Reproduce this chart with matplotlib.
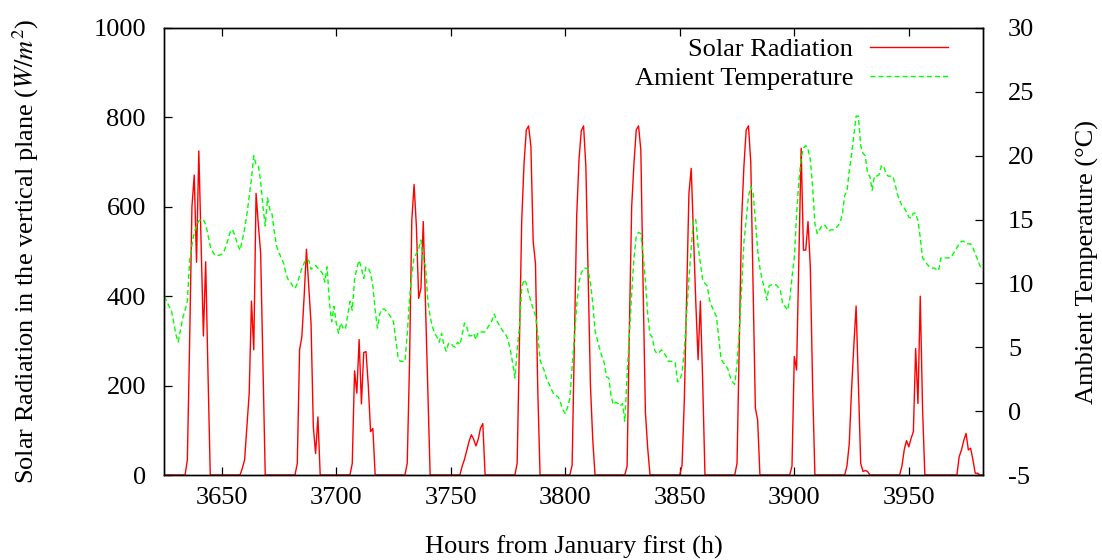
import matplotlib as mpl

mpl.use('agg')

import numpy as np
import matplotlib.pyplot as plt

plt.rc('font', family='serif', size=19)
plt.rc('font', serif=['Liberation Serif', 'DejaVu Serif'])
plt.rc('mathtext', fontset='stix')
plt.rc('axes', unicode_minus=False)

# first hour of both series (hours from January first)
start_hour = 3625

# solar radiation in the vertical plane (W/m2), one value per hour
solar = [
    0, 0, 0, 0, 0,
    0, 0, 0, 0, 0, 34, 300, 600, 671, 476,
    725, 518, 311, 477, 230, 0, 0, 0, 0, 0,
    0, 0, 0, 0, 0, 0, 0, 0, 0, 15,
    34, 110, 183, 389, 280, 630, 560, 496, 250, 0,
    0, 0, 0, 0, 0, 0, 0, 0, 0, 0,
    0, 0, 0, 26, 280, 310, 400, 505, 420, 339,
    108, 48, 130, 0, 0, 0, 0, 0, 0, 0,
    0, 0, 0, 0, 0, 0, 0, 26, 233, 183,
    303, 159, 274, 276, 200, 97, 104, 0, 0, 0,
    0, 0, 0, 0, 0, 0, 0, 0, 0, 0,
    0, 26, 250, 570, 650, 556, 395, 418, 567, 378,
    189, 0, 0, 0, 0, 0, 0, 0, 0, 0,
    0, 0, 0, 0, 0, 20, 35, 55, 75, 90,
    80, 65, 80, 105, 115, 0, 0, 0, 0, 0,
    0, 0, 0, 0, 0, 0, 0, 0, 0, 26,
    300, 570, 697, 772, 781, 735, 522, 473, 190, 0,
    0, 0, 0, 0, 0, 0, 0, 0, 0, 0,
    0, 0, 0, 22, 300, 580, 705, 770, 781, 690,
    450, 200, 80, 0, 0, 0, 0, 0, 0, 0,
    0, 0, 0, 0, 0, 0, 0, 20, 330, 600,
    697, 772, 781, 727, 420, 140, 60, 0, 0, 0,
    0, 0, 0, 0, 0, 0, 0, 0, 0, 0,
    0, 22, 170, 400, 630, 686, 536, 386, 258, 389,
    210, 0, 0, 0, 0, 0, 0, 0, 0, 0,
    0, 0, 0, 0, 0, 26, 300, 570, 690, 772,
    781, 700, 420, 150, 123, 0, 0, 0, 0, 0,
    0, 0, 0, 0, 0, 0, 0, 0, 0, 20,
    265, 235, 480, 731, 503, 503, 567, 466, 200, 0,
    0, 0, 0, 0, 0, 0, 0, 0, 0, 0,
    0, 0, 0, 20, 70, 190, 290, 378, 200, 26,
    8, 10, 8, 0, 0, 0, 0, 0, 0, 0,
    0, 0, 0, 0, 0, 0, 0, 20, 56, 77,
    63, 82, 97, 283, 160, 400, 150, 0, 0, 0,
    0, 0, 0, 0, 0, 0, 0, 0, 0, 0,
    0, 0, 41, 56, 77, 93, 56, 60, 34, 4,
    4, 0, 0,
]

# ambient temperature (C), one value per hour
temperature = [
    9.0, 8.6, 8.2, 7.9, 7.0,
    6.0, 5.4, 6.4, 7.3, 7.9, 8.6, 11.8, 13.0, 14.0, 14.5,
    14.9, 15.0, 15.0, 14.6, 13.8, 12.9, 12.5, 12.2, 12.2, 12.2,
    12.3, 12.5, 13.0, 13.6, 14.2, 14.1, 13.6, 13.0, 12.6, 13.4,
    14.3, 15.4, 16.8, 18.2, 20.0, 19.3, 19.2, 18.0, 16.0, 14.5,
    16.7, 15.8, 15.4, 14.0, 12.9, 12.4, 12.0, 11.6, 10.8, 10.3,
    10.1, 9.8, 9.6, 10.0, 10.6, 11.2, 11.6, 11.9, 11.8, 11.1,
    11.3, 11.4, 11.2, 11.0, 10.8, 10.1, 11.3, 8.6, 7.0, 8.2,
    6.9, 6.1, 6.9, 6.5, 6.4, 7.5, 8.6, 7.9, 10.3, 11.2,
    11.8, 11.2, 10.4, 11.3, 11.2, 10.8, 9.8, 7.9, 6.5, 7.6,
    8.0, 8.0, 7.8, 7.6, 7.3, 7.0, 5.6, 4.2, 3.9, 3.9,
    3.9, 6.0, 8.8, 10.7, 12.1, 12.3, 12.7, 13.4, 11.8, 11.4,
    8.6, 7.4, 6.6, 6.1, 5.8, 5.4, 6.1, 5.2, 4.7, 5.3,
    5.3, 5.1, 5.0, 5.4, 5.2, 6.0, 6.9, 6.6, 5.9, 5.9,
    6.1, 5.6, 6.2, 6.2, 6.2, 6.2, 6.5, 6.8, 7.1, 7.6,
    7.1, 6.8, 6.5, 6.2, 6.0, 5.6, 4.8, 3.8, 2.6, 4.8,
    6.6, 9.7, 10.3, 10.0, 9.2, 8.6, 8.0, 7.5, 6.1, 4.0,
    3.5, 3.1, 2.4, 2.1, 1.7, 1.3, 1.2, 1.1, 0.6, 0.1,
    -0.2, 0.3, 1.0, 3.5, 5.8, 8.3, 10.1, 10.8, 11.2, 11.2,
    11.1, 10.0, 8.5, 6.3, 5.6, 4.9, 4.3, 3.8, 2.7, 2.6,
    1.2, 0.5, 0.7, 0.6, 0.4, 0.6, -0.8, 2.8, 6.0, 9.2,
    12.0, 13.7, 14.0, 13.9, 12.2, 10.2, 7.6, 6.0, 5.8, 4.8,
    4.5, 4.6, 4.8, 4.6, 4.3, 3.9, 3.9, 3.9, 3.8, 2.3,
    2.4, 3.0, 4.8, 7.6, 10.4, 12.8, 15.0, 15.0, 12.9, 11.6,
    10.3, 10.0, 9.8, 8.7, 8.2, 7.8, 7.4, 5.8, 4.1, 3.8,
    3.6, 3.3, 2.7, 2.3, 2.1, 3.7, 6.3, 9.6, 13.2, 15.0,
    16.8, 17.6, 17.1, 15.0, 12.6, 11.2, 10.3, 9.6, 8.7, 9.8,
    9.9, 9.9, 9.9, 9.7, 9.4, 8.3, 8.2, 7.9, 8.7, 10.5,
    12.0, 15.4, 18.0, 19.8, 20.6, 20.8, 20.5, 19.7, 17.6, 14.7,
    13.9, 14.2, 14.5, 14.6, 14.4, 14.1, 14.2, 14.2, 14.3, 14.5,
    14.8, 15.4, 16.9, 17.2, 18.8, 20.1, 21.6, 23.1, 23.1, 20.8,
    20.2, 20.0, 18.6, 18.4, 17.3, 18.4, 18.4, 18.5, 19.2, 19.2,
    18.6, 18.4, 18.4, 18.4, 17.8, 17.0, 16.5, 16.1, 15.9, 15.6,
    15.2, 15.1, 15.5, 15.5, 14.9, 13.6, 12.0, 11.8, 11.5, 11.3,
    11.2, 11.2, 11.1, 11.0, 12.0, 12.0, 12.0, 12.0, 12.0, 12.2,
    12.5, 12.8, 13.1, 13.3, 13.3, 13.1, 13.1, 13.1, 12.8, 12.3,
    11.9, 11.4, 11.2,
]

x_ticks = [3650, 3700, 3750, 3800, 3850, 3900, 3950]
solar_ticks = [0, 200, 400, 600, 800, 1000]
temp_ticks = [-5, 0, 5, 10, 15, 20, 25, 30]

hours_solar = start_hour + np.arange(len(solar))
hours_temp = start_hour + np.arange(len(temperature))

W, H = 1102, 560
fig = plt.figure(figsize=(W / 100, H / 100), dpi=100)
ax = fig.add_axes([164 / W, 1 - 475 / H, (983 - 164) / W, (475 - 28) / H])
ax2 = ax.twinx()

l1, = ax.plot(hours_solar, solar, color='#ff0000', lw=1.0,
              label='Solar Radiation')
l2, = ax2.plot(hours_temp, temperature, color='#00ff00', lw=1.0,
               dashes=(3.6, 2.2), label='Amient Temperature')

ax.set_xlim(3624.8, 3982.4)
ax.set_ylim(0, 1000)
ax2.set_ylim(-5, 30)
ax.set_xticks(x_ticks)
ax.set_yticks(solar_ticks)
ax2.set_yticks(temp_ticks)

ax.tick_params(axis='x', direction='in', length=6, width=0.9, top=True,
               pad=9)
ax.tick_params(axis='y', direction='in', length=6, width=0.9, pad=13)
ax2.tick_params(axis='y', direction='in', length=6, width=0.9, pad=18)

for a in (ax, ax2):
    for s in a.spines.values():
        s.set_linewidth(1.0)
        s.set_color('black')

leg = ax2.legend(handles=[l1, l2], loc='upper right',
                 bbox_to_anchor=(0.957, 0.978), frameon=False,
                 markerfirst=False, borderaxespad=0, borderpad=0,
                 handlelength=2.95, handletextpad=0.64, labelspacing=0.2)

fig.text(26 / W, 1 - 251 / H,
         'Solar Radiation in the vertical plane ($W/m^2$)',
         rotation=90, ha='center', va='center')
fig.text(1087 / W, 1 - 262 / H, 'Ambient Temperature (°C)',
         rotation=90, ha='center', va='center')
fig.text(574 / W, 1 - 547 / H, 'Hours from January first (h)',
         ha='center', va='center')

fig.savefig('out.png', dpi=100)
